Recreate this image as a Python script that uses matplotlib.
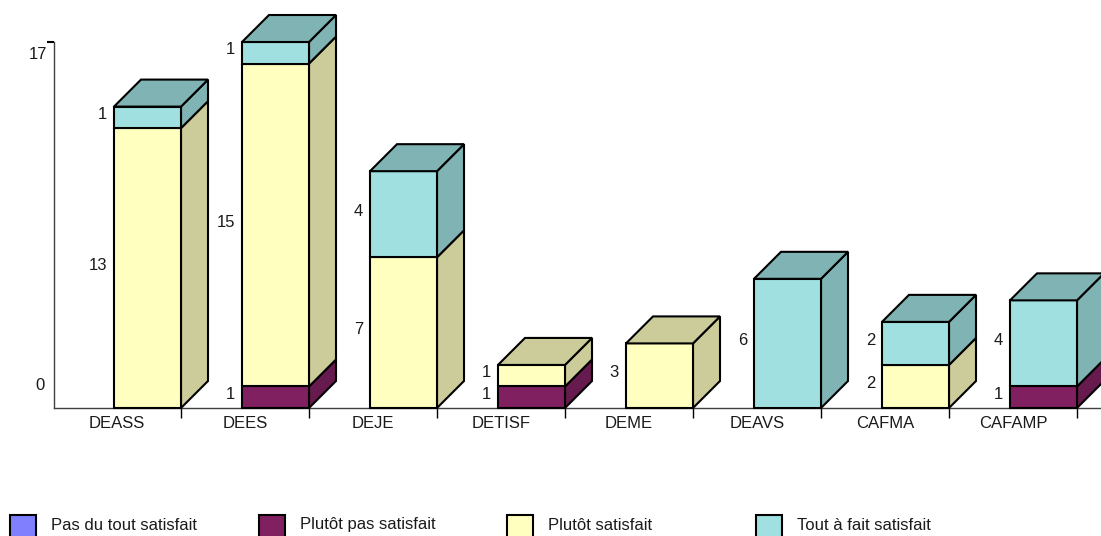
import matplotlib
matplotlib.use("Agg")
import matplotlib.pyplot as plt
from matplotlib.patches import Polygon, Rectangle

plt.rcParams['font.family'] = ['Liberation Sans', 'DejaVu Sans']

categories = ["DEASS", "DEES", "DEJE", "DETISF", "DEME", "DEAVS", "CAFMA", "CAFAMP"]
series_names = ["Pas du tout satisfait", "Plutôt pas satisfait", "Plutôt satisfait", "Tout à fait satisfait"]
pas_du_tout = [0, 0, 0, 0, 0, 0, 0, 0]
plutot_pas = [0, 1, 0, 1, 0, 0, 0, 1]
plutot = [13, 15, 7, 1, 3, 0, 2, 0]
tout_a_fait = [1, 1, 4, 0, 0, 6, 2, 4]
series = [pas_du_tout, plutot_pas, plutot, tout_a_fait]
face = ["#8080FF", "#802060", "#FFFFC0", "#A0E0E0"]
shade = ["#6666CC", "#661A4D", "#CCCC9A", "#80B3B3"]

W, H = 1101, 536
PX_L, PX_R, PX_T, PX_B = 54, 1101, 42, 408
CAT_PX = 128.0
fig = plt.figure(figsize=(W / 100, H / 100), dpi=100)
ax = fig.add_axes([PX_L / W, 1 - PX_B / H, (PX_R - PX_L) / W, (PX_B - PX_T) / H])
ax.set_xlim(1 / CAT_PX, (PX_R - 53) / CAT_PX)
ax.set_ylim(0, 17)
ax.patch.set_visible(False)
for s in ("top", "right"):
    ax.spines[s].set_visible(False)
for s in ("left", "bottom"):
    ax.spines[s].set_color("#404040")
    ax.spines[s].set_linewidth(1.0)

FS = 12
TXT = "#1a1a1a"
# category boundaries carry the ticks, centres carry the labels
ax.set_xticks(range(1, len(categories) + 1))
ax.set_xticklabels([])
ax.tick_params(axis="x", which="major", length=7.5, width=1.0, color="black", direction="out")
ax.set_xticks([i + 0.5 for i in range(len(categories))], minor=True)
ax.set_xticklabels(categories, minor=True, fontsize=FS, color=TXT)
ax.tick_params(axis="x", which="minor", length=0, pad=6)
ax.set_yticks([17])
ax.set_yticklabels([])
ax.tick_params(axis="y", length=5, width=1.5, color="black", direction="out")
ax.annotate("17", (ax.get_xlim()[0], 17), xytext=(-5, -9), textcoords="offset points", ha="right", va="center",
            fontsize=FS, color=TXT, annotation_clip=False)
ax.annotate("0", (ax.get_xlim()[0], 0), xytext=(-6.5, 16), textcoords="offset points", ha="right", va="center",
            fontsize=FS, color=TXT, annotation_clip=False)

BAR_OFF = 61 / CAT_PX
BAR_W = 67 / CAT_PX
DX = 27 / CAT_PX
DY = 27 / ((PX_B - PX_T) / 17)
LW = 1.5

def poly(pts, fc, z):
    ax.add_patch(Polygon(pts, closed=True, fc=fc, ec="black", lw=LW, joinstyle="miter",
                         clip_on=False, zorder=z))

for i in range(len(categories)):
    x0 = i + BAR_OFF
    x1 = x0 + BAR_W
    base = 0
    top_idx = None
    for k, vals in enumerate(series):
        v = vals[i]
        if v == 0:
            continue
        poly([(x1, base), (x1 + DX, base + DY), (x1 + DX, base + v + DY), (x1, base + v)], shade[k], 3)
        poly([(x0, base), (x1, base), (x1, base + v), (x0, base + v)], face[k], 4)
        ax.annotate(str(v), (x0, base + v / 2), xytext=(-5, 2), textcoords="offset points",
                    ha="right", va="center", fontsize=FS, color=TXT,
                    annotation_clip=False, zorder=6)
        base += v
        top_idx = k
    if top_idx is not None:
        poly([(x0, base), (x1, base), (x1 + DX, base + DY), (x0 + DX, base + DY)], shade[top_idx], 5)

# legend, in figure pixels
for k, name in enumerate(series_names):
    lx = 10 + 248.7 * k
    fig.add_artist(Rectangle((lx / W, 1 - 541 / H), 26 / W, 26 / H, fc=face[k], ec="black", lw=1.5,
                             transform=fig.transFigure))
    fig.text((lx + 41) / W, 1 - 525 / H, name, ha="left", va="center", fontsize=FS, color=TXT)

fig.savefig("out.png", dpi=100)
